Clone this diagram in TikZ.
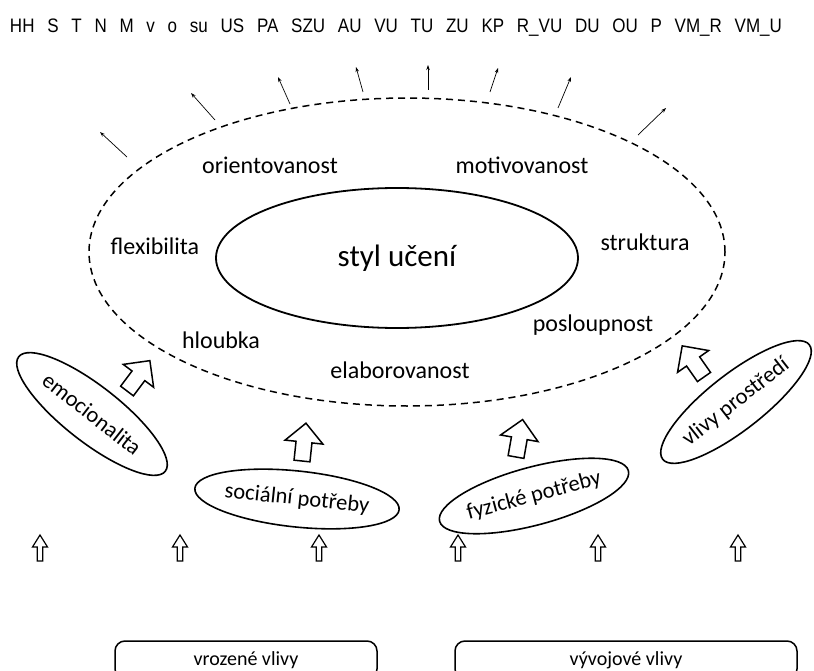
\documentclass[tikz,border=0pt]{standalone}
\usepackage{fontspec}
\setmainfont{Carlito}
\newfontfamily\headfont{Liberation Sans}
\usetikzlibrary{arrows.meta,shapes.geometric}

\tikzset{
  lbl/.style={font=\fontsize{24}{26}\selectfont, inner sep=0pt},
  oval/.style={draw, ellipse, line width=1.6pt, inner sep=0pt, font=\fontsize{22.5}{24}\selectfont},
  ray/.style={line width=0.7pt, -{Stealth[length=5pt,width=3.5pt]}},
  basebox/.style={draw, line width=1.5pt, rounded corners=10pt, minimum height=38pt, font=\fontsize{20}{22}\selectfont},
  pics/fatarrow/.style={code={
    \draw[line width=1.5pt, fill=white, line join=miter]
      (-8,0) -- (-8,-19) -- (-19,-19) -- (0,-38) -- (19,-19) -- (8,-19) -- (8,0) -- cycle;}},
  pics/upmark/.style={code={
    \draw[line width=1.2pt, fill=white, line join=miter]
      (-2.8,0) -- (-2.8,-14) -- (-7.5,-14) -- (0,-26) -- (7.5,-14) -- (2.8,-14) -- (2.8,0) -- cycle;}}
}

\begin{document}
\begin{tikzpicture}[x=1pt, y=-1pt]
\useasboundingbox (0,0) rectangle (814,671);
\clip (0,0) rectangle (814,671);

% row of abbreviations
\node[inner sep=0pt] (head) at (396,28)
  {\resizebox{772pt}{\height}{\headfont\fontsize{19.5}{21}\selectfont\spaceskip=0.75em
   HH S T N M v o su US PA SZU AU VU TU ZU KP R\_VU DU OU P VM\_R VM\_U}};

% outer dashed field
\node[draw, dashed, dash pattern=on 7pt off 5pt, line width=1.5pt, ellipse,
      minimum width=636pt, minimum height=308pt] (field) at (407,252) {};

% core
\node[draw, ellipse, line width=1.8pt, minimum width=362pt, minimum height=140pt,
      font=\fontsize{31}{33}\selectfont] (core) at (397,258) {styl učení};

% dimensions
\node[lbl] (ori) at (270,165) {orientovanost};
\node[lbl] (mot) at (522,165) {motivovanost};
\node[lbl] (flex) at (155,246) {flexibilita};
\node[lbl] (strk) at (645,242) {struktura};
\node[lbl] (hlb) at (221,340) {hloubka};
\node[lbl] (posl) at (593,325) {posloupnost};
\node[lbl] (elab) at (400,370) {elaborovanost};

% outgoing rays
\foreach \xa/\ya/\xb/\yb in {127/157/100/132, 215/120/191/93, 290/104/278/77,
    363/92/356/67, 428/90/428/65, 490/92/498/68, 558/108/571/77, 638/135/666/108}
  \draw[ray] (\xa,\ya) -- (\xb,\yb);

% influences
\node[oval, minimum width=186pt, minimum height=56pt, rotate=-38] (emo) at (92,414) {emocionalita};
\node[oval, minimum width=178pt, minimum height=56pt, rotate=-6] (soc) at (297,499) {sociální potřeby};
\node[oval, minimum width=182pt, minimum height=58pt, rotate=15] (fyz) at (534,496) {fyzické potřeby};
\node[oval, minimum width=186pt, minimum height=56pt, rotate=38] (env) at (736,402) {vlivy prostředí};

% block arrows into the field
\pic[rotate=-37] at (127,391) {fatarrow};
\pic[rotate=-6] at (302,461) {fatarrow};
\pic[rotate=-10] at (516,457) {fatarrow};
\pic[rotate=35] at (704,377) {fatarrow};

% small arrows above the base
\foreach \x in {40,180,319,458,598,738}
  \pic at (\x,561) {upmark};

% base influences
\node[basebox, minimum width=262pt] (innate) at (246,660) {vrozené vlivy};
\node[basebox, minimum width=342pt] (devel) at (626,660) {vývojové vlivy};
\end{tikzpicture}
\end{document}
